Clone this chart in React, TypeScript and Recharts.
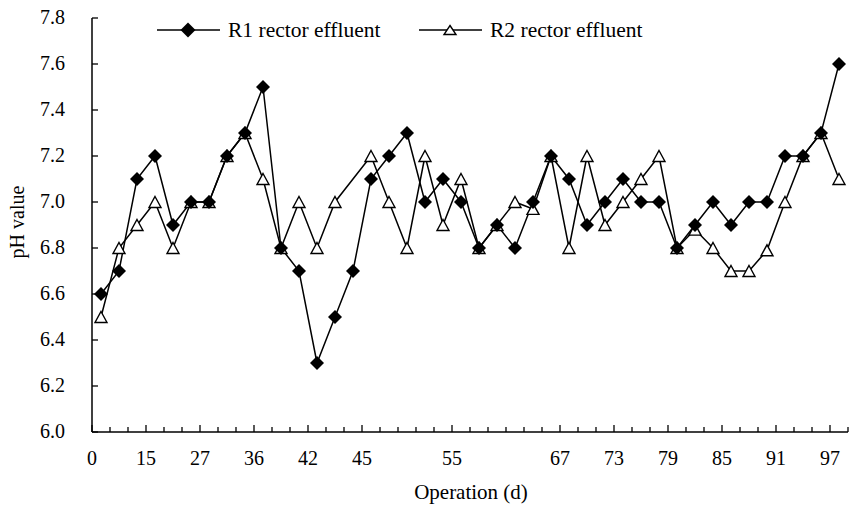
import { LineChart, Line, XAxis, YAxis, Legend } from "recharts";

// category slots that carry a day label, and the labels themselves
const labelSlots = [0, 3, 6, 9, 12, 15, 20, 26, 29, 32, 35, 38, 41];
const dayLabels = ["0", "15", "27", "36", "42", "45", "55", "67", "73", "79", "85", "91", "97"];

// pH of each reactor effluent, one value per sampling
const r1Values = [
  6.6, 6.7, 7.1, 7.2, 6.9, 7.0, 7.0, 7.2, 7.3, 7.5, 6.8, 6.7, 6.3, 6.5, 6.7, 7.1, 7.2, 7.3, 7.0, 7.1, 7.0,
  6.8, 6.9, 6.8, 7.0, 7.2, 7.1, 6.9, 7.0, 7.1, 7.0, 7.0, 6.8, 6.9, 7.0, 6.9, 7.0, 7.0, 7.2, 7.2, 7.3, 7.6,
];
const r2Values = [
  6.5, 6.8, 6.9, 7.0, 6.8, 7.0, 7.0, 7.2, 7.3, 7.1, 6.8, 7.0, 6.8, 7.0, null, 7.2, 7.0, 6.8, 7.2, 6.9, 7.1,
  6.8, 6.9, 7.0, 6.97, 7.2, 6.8, 7.2, 6.9, 7.0, 7.1, 7.2, 6.8, 6.88, 6.8, 6.7, 6.7, 6.79, 7.0, 7.2, 7.3, 7.1,
];
const yTicks = [6.0, 6.2, 6.4, 6.6, 6.8, 7.0, 7.2, 7.4, 7.6, 7.8];

const series = [
  { key: "r1", name: "R1 rector effluent" },
  { key: "r2", name: "R2 rector effluent" },
];

const data = r1Values.map((v, i) => ({ slot: i + 0.5, r1: v, r2: r2Values[i] }));
const xTicks = Array.from({ length: r1Values.length + 1 }, (_, i) => i);

const FONT = "'Liberation Serif', 'Times New Roman', serif";

const diamondPts = (cx: number, cy: number, r: number) =>
  `${cx},${cy - r} ${cx + r},${cy} ${cx},${cy + r} ${cx - r},${cy}`;
const trianglePts = (cx: number, cy: number, w: number, h: number) =>
  `${cx},${cy - h / 2} ${cx + w / 2},${cy + h / 2} ${cx - w / 2},${cy + h / 2}`;

const DiamondDot = (p: any) => {
  if (p.cx == null || p.cy == null || p.value == null) return <g key={`d-${p.index}`} />;
  return <polygon key={`d-${p.index}`} points={diamondPts(p.cx, p.cy, 7)} fill="#000" />;
};

const TriangleDot = (p: any) => {
  if (p.cx == null || p.cy == null || p.value == null) return <g key={`t-${p.index}`} />;
  return (
    <polygon
      key={`t-${p.index}`}
      points={trianglePts(p.cx, p.cy, 12, 11)}
      fill="#fff"
      stroke="#000"
      strokeWidth={1.4}
    />
  );
};

const XTick = (props: any) => {
  const { x, y, payload } = props;
  const k = labelSlots.indexOf(payload.value);
  return (
    <g>
      <line x1={x} x2={x} y1={y} y2={y - (k >= 0 ? 7 : 5)} stroke="#000" strokeWidth={1.3} />
      {k >= 0 && (
        <text x={x} y={y + 33} textAnchor="middle" fontSize={20} fontFamily={FONT} fill="#000">
          {dayLabels[k]}
        </text>
      )}
    </g>
  );
};

const YTick = (props: any) => {
  const { x, y, payload } = props;
  return (
    <g>
      <line x1={x} x2={x + 6} y1={y} y2={y} stroke="#000" strokeWidth={1.3} />
      <text x={x - 27} y={y + 6} textAnchor="end" fontSize={20} fontFamily={FONT} fill="#000">
        {payload.value.toFixed(1)}
      </text>
    </g>
  );
};

const YTitle = () => (
  <text
    transform="translate(24,222) rotate(-90)"
    textAnchor="middle"
    fontSize={20}
    fontFamily={FONT}
    fill="#000"
  >
    pH value
  </text>
);

const XTitle = () => (
  <text x={471} y={499} textAnchor="middle" fontSize={21} fontFamily={FONT} fill="#000">
    Operation (d)
  </text>
);

const LegendBox = () => (
  <svg width={850} height={50}>
    {series.map((s, i) => {
      const x0 = i === 0 ? 157 : 419;
      const mid = x0 + 31;
      return (
        <g key={s.key}>
          <line x1={x0} x2={x0 + 63} y1={30} y2={30} stroke="#000" strokeWidth={1.5} />
          {i === 0 ? (
            <polygon points={diamondPts(mid, 30, 7.5)} fill="#000" />
          ) : (
            <polygon points={trianglePts(mid, 30, 12, 9)} fill="#fff" stroke="#000" strokeWidth={1.4} />
          )}
          <text x={x0 + 71} y={37} fontSize={21.5} fontFamily={FONT} fill="#000">
            {s.name}
          </text>
        </g>
      );
    })}
  </svg>
);

export default function App() {
  return (
    <div style={{ position: "absolute", left: 0, top: 0, background: "#fff" }}>
      <LineChart
        width={850}
        height={505}
        data={data}
        margin={{ top: 18, right: 2, bottom: 0, left: 0 }}
        style={{ fontFamily: FONT }}
      >
        <XAxis
          type="number"
          dataKey="slot"
          domain={[0, r1Values.length]}
          ticks={xTicks}
          interval={0}
          tickSize={0}
          tickMargin={0}
          tick={<XTick />}
          axisLine={{ stroke: "#000", strokeWidth: 1.5 }}
          height={73}
          label={<XTitle />}
        />
        <YAxis
          type="number"
          domain={[6, 7.8]}
          ticks={yTicks}
          interval={0}
          width={92}
          tickSize={0}
          tickMargin={0}
          tick={<YTick />}
          axisLine={{ stroke: "#000", strokeWidth: 1.5 }}
          label={<YTitle />}
        />
        <Legend
          layout="horizontal"
          verticalAlign="middle"
          align="center"
          wrapperStyle={{ top: 0, left: 0, width: 850, height: 50 }}
          content={() => <LegendBox />}
        />
        <Line
          dataKey="r2"
          name="R2 rector effluent"
          stroke="#000"
          strokeWidth={1.5}
          connectNulls
          dot={TriangleDot}
          activeDot={false}
          isAnimationActive={false}
        />
        <Line
          dataKey="r1"
          name="R1 rector effluent"
          stroke="#000"
          strokeWidth={1.5}
          dot={DiamondDot}
          activeDot={false}
          isAnimationActive={false}
        />
      </LineChart>
    </div>
  );
}
